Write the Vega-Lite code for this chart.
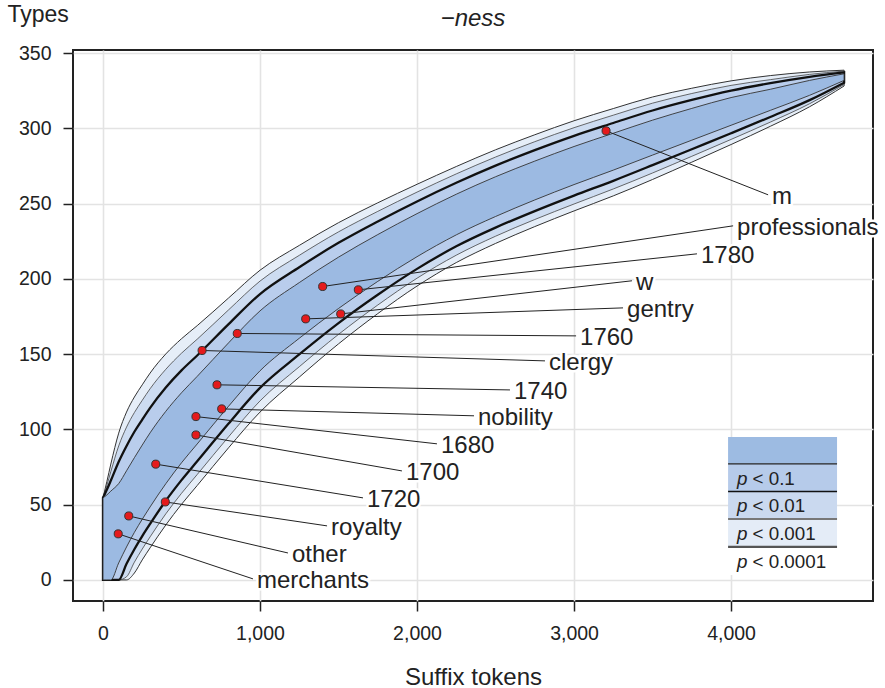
{
  "$schema": "https://vega.github.io/schema/vega-lite/v6.json",
  "width": 800,
  "height": 551,
  "autosize": "none",
  "padding": {"left": 73, "top": 50, "right": 12, "bottom": 87},
  "background": "white",
  "config": {
    "view": {"stroke": "#222", "strokeWidth": 2},
    "font": "Liberation Sans",
    "axis": {
      "labelFont": "Liberation Sans", "titleFont": "Liberation Sans",
      "labelFontSize": 19.5, "titleFontSize": 23, "titleFontWeight": "normal",
      "labelColor": "#222", "titleColor": "#222", "tickColor": "#222",
      "tickWidth": 1.5, "tickSize": 10, "gridColor": "#e3e3e3", "gridWidth": 1.6,
      "domain": false
    }
  },
  "title": {"text": "−ness", "fontSize": 24, "fontStyle": "italic", "fontWeight": "normal", "font": "Liberation Sans", "color": "#222", "offset": -47, "baseline": "alphabetic", "anchor": "middle"},
  "datasets": {
    "env": [
      {"t": 0, "U1": 54.5, "U2": 54.5, "U3": 54.5, "U4": 54.5, "L1": 0, "L2": 0, "L3": 0, "L4": 0},
      {"t": 25, "U1": 56.5, "U2": 60, "U3": 63, "U4": 65.5, "L1": 0, "L2": 0, "L3": 0, "L4": 0},
      {"t": 50, "U1": 59, "U2": 66, "U3": 72, "U4": 77, "L1": 0, "L2": 0, "L3": 0, "L4": 0},
      {"t": 100, "U1": 64, "U2": 78.5, "U3": 89, "U4": 97.5, "L1": 11.3, "L2": 0, "L3": 0, "L4": 0},
      {"t": 150, "U1": 72.5, "U2": 89, "U3": 101.5, "U4": 111.5, "L1": 21.9, "L2": 10.7, "L3": 2.1, "L4": 0},
      {"t": 200, "U1": 81.2, "U2": 98.4, "U3": 111.2, "U4": 121.5, "L1": 31.6, "L2": 20.4, "L3": 11.8, "L4": 4.6},
      {"t": 250, "U1": 89.6, "U2": 106.5, "U3": 119.3, "U4": 129.6, "L1": 40.3, "L2": 29.1, "L3": 20.5, "L4": 13.3},
      {"t": 300, "U1": 97.7, "U2": 114.3, "U3": 127, "U4": 137.4, "L1": 48.5, "L2": 37.2, "L3": 28.6, "L4": 21.3},
      {"t": 400, "U1": 112, "U2": 127.8, "U3": 139.9, "U4": 150.1, "L1": 63.9, "L2": 52.6, "L3": 43.9, "L4": 36.5},
      {"t": 500, "U1": 124.3, "U2": 139.2, "U3": 150.6, "U4": 160.2, "L1": 77.8, "L2": 66.3, "L3": 57.5, "L4": 50.2},
      {"t": 600, "U1": 135.2, "U2": 149.1, "U3": 159.9, "U4": 168.9, "L1": 90.3, "L2": 78.8, "L3": 70, "L4": 62.7},
      {"t": 800, "U1": 157.5, "U2": 169.9, "U3": 179.4, "U4": 187.3, "L1": 115.4, "L2": 103.9, "L3": 95.1, "L4": 87.8},
      {"t": 1000, "U1": 178.7, "U2": 189.9, "U3": 198.5, "U4": 205.7, "L1": 138.9, "L2": 127.6, "L3": 118.9, "L4": 111.5},
      {"t": 1250, "U1": 197.5, "U2": 207.7, "U3": 215.6, "U4": 222.2, "L1": 160.5, "L2": 149.8, "L3": 141.6, "L4": 134.7},
      {"t": 1500, "U1": 214.4, "U2": 223.9, "U3": 231.2, "U4": 237.3, "L1": 180.3, "L2": 170.6, "L3": 163.1, "L4": 156.8},
      {"t": 1750, "U1": 229.4, "U2": 238.1, "U3": 244.8, "U4": 250.5, "L1": 198.3, "L2": 189.4, "L3": 182.6, "L4": 176.9},
      {"t": 2000, "U1": 243.3, "U2": 251.4, "U3": 257.6, "U4": 262.8, "L1": 214.7, "L2": 206.6, "L3": 200.4, "L4": 195.2},
      {"t": 2250, "U1": 256.2, "U2": 263.8, "U3": 269.7, "U4": 274.6, "L1": 229.2, "L2": 221.6, "L3": 215.7, "L4": 210.8},
      {"t": 2500, "U1": 267.8, "U2": 275.2, "U3": 280.9, "U4": 285.7, "L1": 241.4, "L2": 234, "L3": 228.3, "L4": 223.5},
      {"t": 2750, "U1": 278.2, "U2": 285.5, "U3": 291.1, "U4": 295.7, "L1": 252.4, "L2": 245, "L3": 239.4, "L4": 234.7},
      {"t": 3000, "U1": 287.9, "U2": 295, "U3": 300.4, "U4": 305, "L1": 262.6, "L2": 255.3, "L3": 249.7, "L4": 245.1},
      {"t": 3250, "U1": 296.7, "U2": 303.5, "U3": 308.7, "U4": 313.1, "L1": 272.2, "L2": 265.1, "L3": 259.7, "L4": 255.1},
      {"t": 3500, "U1": 305.4, "U2": 311.8, "U3": 316.7, "U4": 320.8, "L1": 282.2, "L2": 275.5, "L3": 270.3, "L4": 266},
      {"t": 3750, "U1": 313.2, "U2": 318.8, "U3": 323.1, "U4": 326.6, "L1": 292.1, "L2": 286.1, "L3": 281.4, "L4": 277.5},
      {"t": 4000, "U1": 320.4, "U2": 325, "U3": 328.5, "U4": 331.5, "L1": 302, "L2": 296.7, "L3": 292.6, "L4": 289.2},
      {"t": 4250, "U1": 325.9, "U2": 330, "U3": 332.3, "U4": 335, "L1": 311.9, "L2": 307.5, "L3": 304.1, "L4": 301.3},
      {"t": 4500, "U1": 331.8, "U2": 334.2, "U3": 335.8, "U4": 337.4, "L1": 321.9, "L2": 318.7, "L3": 316.3, "L4": 314.3},
      {"t": 4720, "U1": 336.2, "U2": 337.2, "U3": 338, "U4": 338.6, "L1": 331.8, "L2": 330.3, "L3": 329.1, "L4": 328.1}
    ],
    "pts": [
      {"name": "m", "t": 3204, "v": 298.3, "lt": 4236, "lv": 255.8},
      {"name": "professionals", "t": 1399, "v": 194.9, "lt": 4013, "lv": 235.2},
      {"name": "1780", "t": 1626, "v": 192.7, "lt": 3783, "lv": 216.6},
      {"name": "w", "t": 1514, "v": 176.7, "lt": 3369, "lv": 198.7},
      {"name": "gentry", "t": 1291, "v": 173.4, "lt": 3312, "lv": 180.7},
      {"name": "1760", "t": 855, "v": 163.7, "lt": 3013, "lv": 162.1},
      {"name": "clergy", "t": 631, "v": 152.4, "lt": 2815, "lv": 145.5},
      {"name": "1740", "t": 726, "v": 129.6, "lt": 2592, "lv": 126.2},
      {"name": "nobility", "t": 756, "v": 113.6, "lt": 2363, "lv": 109.0},
      {"name": "1680", "t": 592, "v": 108.5, "lt": 2127, "lv": 90.4},
      {"name": "1700", "t": 592, "v": 96.3, "lt": 1904, "lv": 72.4},
      {"name": "1720", "t": 336, "v": 76.9, "lt": 1656, "lv": 54.5},
      {"name": "royalty", "t": 397, "v": 51.8, "lt": 1427, "lv": 35.9},
      {"name": "other", "t": 164, "v": 42.5, "lt": 1178, "lv": 17.9},
      {"name": "merchants", "t": 97, "v": 30.6, "lt": 955, "lv": 0.7}
    ],
    "leg": [
      {"row": "band", "p": "", "rest": "", "lo": 77.1, "hi": 95.0, "mid": 86},
      {"row": "p01", "p": "p", "rest": "< 0.1", "lo": 58.7, "hi": 77.1, "mid": 67.9},
      {"row": "p001", "p": "p", "rest": "< 0.01", "lo": 40.5, "hi": 58.7, "mid": 49.6},
      {"row": "p0001", "p": "p", "rest": "< 0.001", "lo": 21.9, "hi": 40.5, "mid": 31.2},
      {"row": "p00001", "p": "p", "rest": "< 0.0001", "lo": 3.3, "hi": 21.9, "mid": 12.6}
    ],
    "legLines": [
      {"y": 77.1, "kind": "a"},
      {"y": 58.7, "kind": "b"},
      {"y": 40.5, "kind": "c"},
      {"y": 21.9, "kind": "d"}
    ]
  },
  "layer": [
    {
      "data": {"name": "env"},
      "mark": {"type": "area", "fill": "#e6eef8", "stroke": "#333", "strokeWidth": 1, "interpolate": "monotone"},
      "encoding": {
        "x": {"field": "t", "type": "quantitative", "title": "Suffix tokens", "scale": {"domain": [-191, 4904], "nice": false, "zero": false},
              "axis": {"values": [0, 1000, 2000, 3000, 4000], "format": ",d", "labelPadding": 13, "titleFontSize": 24, "titleX": 400, "titleY": 83, "titleBaseline": "alphabetic", "titleAlign": "center"}},
        "y": {"field": "U4", "type": "quantitative", "title": "Types", "scale": {"domain": [-14, 352], "nice": false, "zero": false},
              "axis": {"values": [0, 50, 100, 150, 200, 250, 300, 350], "labelPadding": 12, "titleAngle": 0, "titleAlign": "left", "titleBaseline": "alphabetic", "titleX": -66, "titleY": -29}},
        "y2": {"field": "L4"}
      }
    },
    {
      "data": {"name": "env"},
      "mark": {"type": "area", "fill": "#cddcf1", "stroke": "#444", "strokeWidth": 0.8, "interpolate": "monotone"},
      "encoding": {
        "x": {"field": "t", "type": "quantitative", "title": "Suffix tokens"},
        "y": {"field": "U3", "type": "quantitative", "title": "Types"},
        "y2": {"field": "L3"}
      }
    },
    {
      "data": {"name": "env"},
      "mark": {"type": "area", "fill": "#b9cdec", "stroke": "#111", "strokeWidth": 2.3, "interpolate": "monotone"},
      "encoding": {
        "x": {"field": "t", "type": "quantitative", "title": "Suffix tokens"},
        "y": {"field": "U2", "type": "quantitative", "title": "Types"},
        "y2": {"field": "L2"}
      }
    },
    {
      "data": {"name": "env"},
      "mark": {"type": "area", "fill": "#9cbae2", "stroke": "#333", "strokeWidth": 0.9, "interpolate": "monotone"},
      "encoding": {
        "x": {"field": "t", "type": "quantitative", "title": "Suffix tokens"},
        "y": {"field": "U1", "type": "quantitative", "title": "Types"},
        "y2": {"field": "L1"}
      }
    },
    {
      "data": {"name": "pts"},
      "mark": {"type": "rule", "color": "#222", "strokeWidth": 1},
      "encoding": {
        "x": {"field": "t", "type": "quantitative", "title": "Suffix tokens"},
        "y": {"field": "v", "type": "quantitative", "title": "Types"},
        "x2": {"field": "lt"},
        "y2": {"field": "lv"}
      }
    },
    {
      "data": {"name": "pts"},
      "mark": {"type": "point", "shape": "circle", "filled": true, "fill": "#e41a1c", "stroke": "#333", "strokeWidth": 1, "size": 65, "opacity": 1},
      "encoding": {
        "x": {"field": "t", "type": "quantitative", "title": "Suffix tokens"},
        "y": {"field": "v", "type": "quantitative", "title": "Types"}
      }
    },
    {
      "data": {"name": "pts"},
      "mark": {"type": "text", "align": "left", "baseline": "middle", "dx": 4, "dy": 2, "fontSize": 24, "font": "Liberation Sans", "stroke": "white", "strokeWidth": 5, "fill": "white"},
      "encoding": {
        "x": {"field": "lt", "type": "quantitative", "title": "Suffix tokens"},
        "y": {"field": "lv", "type": "quantitative", "title": "Types"},
        "text": {"field": "name"}
      }
    },
    {
      "data": {"name": "pts"},
      "mark": {"type": "text", "align": "left", "baseline": "middle", "dx": 4, "dy": 2, "fontSize": 24, "font": "Liberation Sans", "fill": "#222"},
      "encoding": {
        "x": {"field": "lt", "type": "quantitative", "title": "Suffix tokens"},
        "y": {"field": "lv", "type": "quantitative", "title": "Types"},
        "text": {"field": "name"}
      }
    },
    {
      "data": {"name": "leg"},
      "mark": {"type": "rect"},
      "encoding": {
        "x": {"datum": 3981, "type": "quantitative", "title": "Suffix tokens"},
        "x2": {"datum": 4675},
        "y": {"field": "hi", "type": "quantitative", "title": "Types"},
        "y2": {"field": "lo"},
        "color": {"field": "row", "type": "nominal", "legend": null,
                  "scale": {"domain": ["band", "p01", "p001", "p0001", "p00001"], "range": ["#9dbbe2", "#b6cbea", "#cad9ef", "#e4ecf7", "#ffffff"]}}
      }
    },
    {
      "data": {"name": "legLines"},
      "mark": {"type": "rule"},
      "encoding": {
        "x": {"datum": 3981, "type": "quantitative", "title": "Suffix tokens"},
        "x2": {"datum": 4675},
        "y": {"field": "y", "type": "quantitative", "title": "Types"},
        "stroke": {"field": "kind", "type": "nominal", "legend": null,
                   "scale": {"domain": ["a", "b", "c", "d"], "range": ["#222", "#111", "#777", "#555"]}},
        "strokeWidth": {"field": "kind", "type": "nominal", "legend": null,
                        "scale": {"domain": ["a", "b", "c", "d"], "range": [1.1, 2.3, 1.5, 1.4]}}
      }
    },
    {
      "data": {"name": "leg"},
      "transform": [{"filter": "datum.p != ''"}],
      "mark": {"type": "text", "align": "left", "baseline": "middle", "dy": 1, "fontSize": 18.8, "fontStyle": "italic", "font": "Liberation Sans", "fill": "#222"},
      "encoding": {
        "x": {"datum": 4038, "type": "quantitative", "title": "Suffix tokens"},
        "y": {"field": "mid", "type": "quantitative", "title": "Types"},
        "text": {"field": "p"}
      }
    },
    {
      "data": {"name": "leg"},
      "transform": [{"filter": "datum.p != ''"}],
      "mark": {"type": "text", "align": "left", "baseline": "middle", "dx": 15.5, "dy": 1, "fontSize": 18.8, "font": "Liberation Sans", "fill": "#222"},
      "encoding": {
        "x": {"datum": 4038, "type": "quantitative", "title": "Suffix tokens"},
        "y": {"field": "mid", "type": "quantitative", "title": "Types"},
        "text": {"field": "rest"}
      }
    }
  ]
}
